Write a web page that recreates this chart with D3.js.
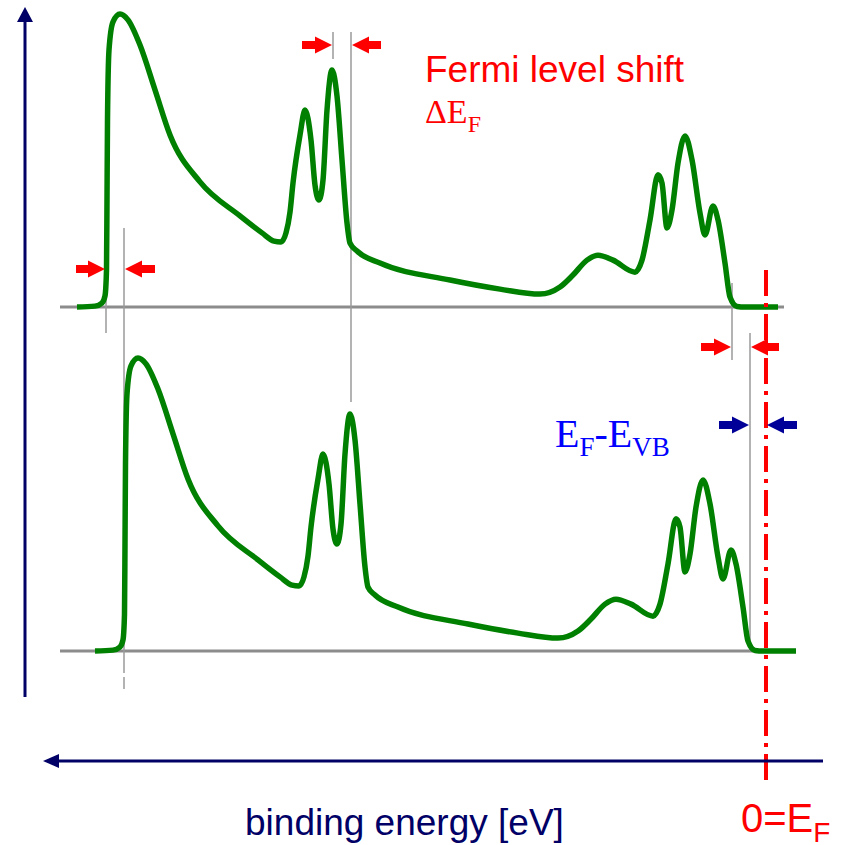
<!DOCTYPE html>
<html>
<head>
<meta charset="utf-8">
<script src="https://cdn.jsdelivr.net/npm/d3@7"></script>
<style>
  body { margin: 0; background: #fff; }
</style>
</head>
<body>
<script>
let width = 846,
    height = 845

// binding energy (eV, 0 = Fermi level) and intensity (arb. units) of the upper spectrum
const energies = [13.78, 13.42, 13.28, 13.22, 13.19, 13.18, 13.17, 13.14, 13.06, 12.92,
  12.76, 12.52, 12.22, 11.92, 11.32, 10.52, 10.08, 9.84, 9.70, 9.60,
  9.52, 9.46, 9.32, 9.22, 9.10, 9.02, 8.94, 8.86, 8.78, 8.68,
  8.58, 8.48, 8.38, 8.32, 8.18, 7.72, 6.32, 5.32, 4.52, 4.12,
  3.86, 3.58, 3.36, 3.06, 2.62, 2.48, 2.32, 2.16, 2.08, 1.98,
  1.88, 1.76, 1.62, 1.48, 1.32, 1.22, 1.06, 0.96, 0.82, 0.72,
  0.58, 0.42, -0.24]
const intensity = [0, 0.3, 1.4, 3.8, 12.6, 36.5, 63.8, 87.7, 97.3, 100,
  98.0, 89.4, 74.1, 58.7, 42.7, 31.1, 25.3, 22.5, 22.2, 25.3,
  32.4, 42.3, 58.7, 67.2, 57.0, 41.6, 36.5, 43.3, 67.2, 80.9,
  72.0, 50.2, 28.7, 21.8, 19.1, 15.0, 9.2, 6.1, 4.4, 6.8,
  10.9, 16.0, 17.7, 16.0, 11.9, 16.0, 29.7, 45.1, 42.3, 27.0,
  33.1, 49.1, 58.4, 50.2, 32.1, 24.6, 34.5, 29.7, 15.0, 3.4,
  0.2, 0, 0]

// lower spectrum is the same one moved by the Fermi level shift
const fermiShift = 0.36
// energies of the features that are marked (upper spectrum)
const edgeLow = 13.2, peakMain = 8.66, edgeVB = 0.68

let svg = d3.select('body').append('svg')
  .attr('width', width)
  .attr('height', height)
  .style('font-family', '"Liberation Sans", Arial, sans-serif')

const x = d3.scaleLinear().domain([0, 14]).range([766, 66])
const y = d3.scaleLinear().domain([0, 100]).range([0, -293])

const baseTop = 307, baseBottom = 651
const grey = '#8c8c8c', thin = '#9a9a9a'
const green = '#008000', red = '#ff0000', navy = '#000066', blue = '#000099'

// baselines
svg.append('line').attr('x1', 60).attr('x2', 784).attr('y1', baseTop).attr('y2', baseTop)
  .style('stroke', grey).style('stroke-width', 3)
svg.append('line').attr('x1', 60).attr('x2', 760).attr('y1', baseBottom).attr('y2', baseBottom)
  .style('stroke', grey).style('stroke-width', 3)

// thin guide lines
const guides = [
  [x(edgeLow), 228, 333],
  [x(edgeLow - fermiShift), 228, 673],
  [x(edgeLow - fermiShift), 677, 689],
  [x(peakMain), 32, 59],
  [x(peakMain - fermiShift), 32, 402],
  [x(edgeVB), 283, 360],
  [x(edgeVB - fermiShift), 333, 651]
]
svg.append('g').selectAll('line').data(guides).join('line')
  .attr('x1', d => d[0]).attr('x2', d => d[0])
  .attr('y1', d => d[1]).attr('y2', d => d[2])
  .style('stroke', thin).style('stroke-width', 1.5)

// spectra
const spectrum = energies.map((e, i) => ({e: e, v: intensity[i]}))
const line = d3.line()
  .x(d => d[0])
  .y(d => d[1])
  .curve(d3.curveMonotoneX)

svg.append('path')
  .attr('d', line(spectrum.map(d => [x(d.e), baseTop + y(d.v)])))
  .style('fill', 'none').style('stroke', green).style('stroke-width', 5.5)
  .style('stroke-linejoin', 'round').style('stroke-linecap', 'butt')
svg.append('path')
  .attr('d', line(spectrum.map(d => [x(d.e - fermiShift), baseBottom + y(d.v)])))
  .style('fill', 'none').style('stroke', green).style('stroke-width', 5.5)
  .style('stroke-linejoin', 'round').style('stroke-linecap', 'butt')

// Fermi level
svg.append('line').attr('x1', x(0)).attr('x2', x(0)).attr('y1', 270).attr('y2', 782)
  .style('stroke', red).style('stroke-width', 4)
  .style('stroke-dasharray', '26,7,4,7')

// axes
svg.append('line').attr('x1', 25).attr('x2', 25).attr('y1', 20).attr('y2', 697)
  .style('stroke', navy).style('stroke-width', 3)
svg.append('path').attr('d', 'M25,7 L33,22 L17,22 Z').style('fill', navy)
svg.append('line').attr('x1', 57).attr('x2', 823).attr('y1', 761).attr('y2', 761)
  .style('stroke', navy).style('stroke-width', 3)
svg.append('path').attr('d', 'M43,761 L59,754 L59,768 Z').style('fill', navy)

// small block arrows, tip at x2
function arrow(x1, x2, yy, color) {
  const dir = x2 > x1 ? 1 : -1
  const hl = 17, hw = 8.5, sw = 4
  const xb = x2 - dir * hl
  const p = d3.path()
  p.moveTo(x1, yy - sw)
  p.lineTo(xb, yy - sw)
  p.lineTo(xb, yy - hw)
  p.lineTo(x2, yy)
  p.lineTo(xb, yy + hw)
  p.lineTo(xb, yy + sw)
  p.lineTo(x1, yy + sw)
  p.closePath()
  svg.append('path').attr('d', p.toString()).style('fill', color)
}
arrow(76, x(edgeLow) - 1, 269, red)
arrow(155, x(edgeLow - fermiShift) + 1, 269, red)
arrow(302, x(peakMain) - 1, 45, red)
arrow(381, x(peakMain - fermiShift) + 1, 45, red)
arrow(701, x(edgeVB) - 1, 347, red)
arrow(779, x(edgeVB - fermiShift) + 1, 347, red)
arrow(719, x(edgeVB - fermiShift) - 1, 425, blue)
arrow(797, x(0) + 1, 425, blue)

// labels
svg.append('text').attr('x', 425).attr('y', 82)
  .style('font-size', '37px').style('fill', red)
  .text('Fermi level shift')

const serif = '"Liberation Serif", "Times New Roman", serif'
let dE = svg.append('text').attr('x', 425).attr('y', 123)
  .style('font-family', serif).style('font-size', '34px').style('fill', red)
dE.append('tspan').text('ΔE')
dE.append('tspan').attr('y', 132).style('font-size', '24px').text('F')

let gap = svg.append('text').attr('x', 555).attr('y', 447)
  .style('font-family', serif).style('font-size', '40px').style('fill', '#0000ff')
gap.append('tspan').text('E')
gap.append('tspan').attr('y', 456).style('font-size', '27px').text('F')
gap.append('tspan').attr('y', 447).text('-E')
gap.append('tspan').attr('y', 456).style('font-size', '27px').text('VB')

svg.append('text').attr('x', 245).attr('y', 835)
  .style('font-size', '37px').style('fill', navy)
  .text('binding energy [eV]')

let ef = svg.append('text').attr('x', 741).attr('y', 832)
  .style('font-size', '40px').style('fill', red)
ef.append('tspan').text('0=E')
ef.append('tspan').attr('y', 842).style('font-size', '28px').text('F')
</script>
</body>
</html>
